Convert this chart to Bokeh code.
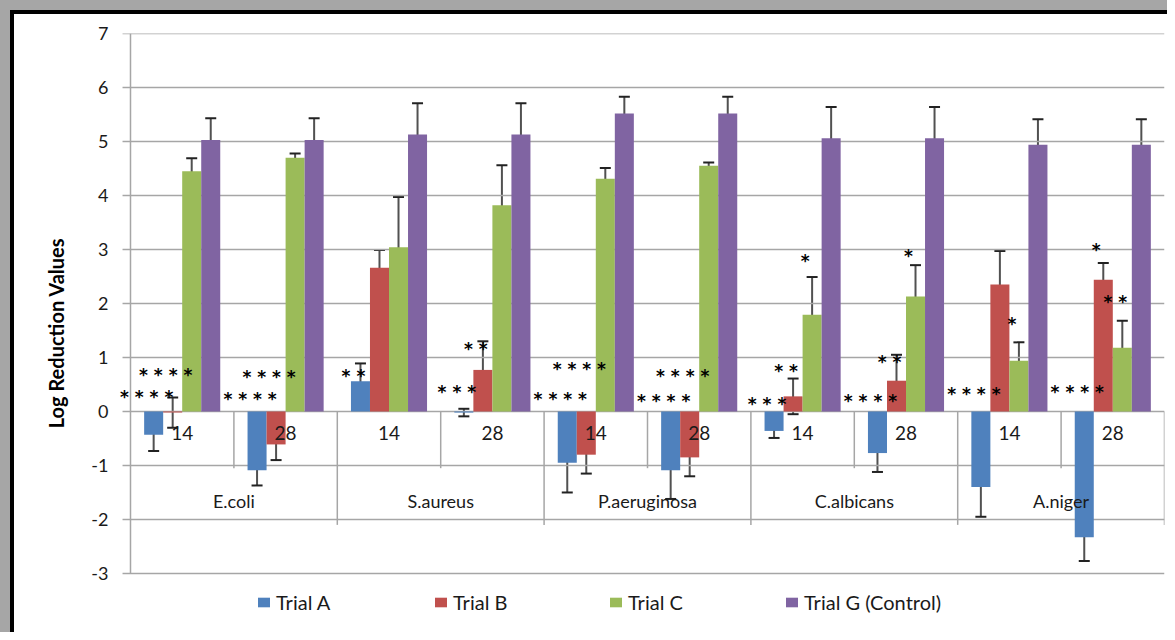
from bokeh.plotting import figure
from bokeh.models import (ColumnDataSource, Whisker, TeeHead, Legend, LegendItem,
                          FixedTicker, Range1d, Div)
from bokeh.layouts import column, row
from bokeh.core.properties import value
from bokeh.embed import file_html
from bokeh.resources import INLINE

# ---------------- data ----------------
organisms = ["E.coli", "S.aureus", "P.aeruginosa", "C.albicans", "A.niger"]
days = ["14", "28"]
series_names = ["Trial A", "Trial B", "Trial C", "Trial G (Control)"]

# order: E14, E28, S14, S28, P14, P28, C14, C28, A14, A28
trial_a = [-0.43, -1.09, 0.56, -0.02, -0.95, -1.09, -0.36, -0.77, -1.40, -2.33]
trial_a_err = [0.30, 0.28, 0.33, 0.07, 0.55, 0.53, 0.13, 0.35, 0.55, 0.44]
trial_b = [-0.02, -0.61, 2.66, 0.77, -0.80, -0.85, 0.28, 0.57, 2.35, 2.44]
trial_b_err = [0.28, 0.29, 0.33, 0.53, 0.35, 0.35, 0.33, 0.48, 0.62, 0.31]
trial_c = [4.45, 4.70, 3.04, 3.82, 4.31, 4.55, 1.79, 2.13, 0.94, 1.18]
trial_c_err = [0.24, 0.08, 0.93, 0.74, 0.20, 0.06, 0.70, 0.58, 0.34, 0.50]
trial_g = [5.03, 5.03, 5.13, 5.13, 5.52, 5.52, 5.06, 5.06, 4.94, 4.94]
trial_g_err = [0.40, 0.40, 0.58, 0.58, 0.31, 0.31, 0.58, 0.58, 0.47, 0.47]

# significance marks: category index, series index, text, height (log value)
star_cat = [0, 0, 1, 1, 2, 3, 3, 4, 4, 5, 5, 6, 6, 6, 7, 7, 7, 8, 8, 9, 9, 9]
star_series = [0, 1, 0, 1, 0, 0, 1, 0, 1, 0, 1, 0, 1, 2, 0, 1, 2, 0, 2, 0, 1, 2]
star_text = ["****", "****", "****", "****", "**", "***", "**", "****", "****",
             "****", "****", "***", "**", "*", "****", "**", "*", "****", "*",
             "****", "*", "**"]
star_y = [0.34, 0.75, 0.31, 0.71, 0.73, 0.43, 1.23, 0.31, 0.86, 0.27, 0.73,
          0.22, 0.82, 2.86, 0.27, 0.99, 2.96, 0.39, 1.70, 0.43, 3.07, 2.10]

y_ticks = [-3, -2, -1, 0, 1, 2, 3, 4, 5, 6, 7]
y_tick_labels = ["-3", "-2", "-1", "0", "1", "2", "3", "4", "5", "6", "7"]

colors = ["#4F81BD", "#C0504D", "#9BBB59", "#8064A2"]
values = [trial_a, trial_b, trial_c, trial_g]
errors = [trial_a_err, trial_b_err, trial_c_err, trial_g_err]

BAR_W = 0.184
n_cat = len(organisms) * len(days)
X0 = -0.1547          # small margin left of the value axis (room for labels)
TICK = -0.077         # tick mark length left of the axis
GRID = "#a6a6a6"
FONT = "Lato"


def bar_x(i, j):
    return i + 0.5 + (j - 1.5) * BAR_W


p = figure(frame_width=1050, frame_height=599,
           min_border_left=100, min_border_right=3,
           min_border_top=19, min_border_bottom=0,
           x_range=Range1d(X0, n_cat), y_range=Range1d(-4.093, 7),
           x_axis_location=None, output_backend="svg",
           toolbar_location=None, margin=0)
p.outline_line_color = None
p.background_fill_color = "white"
p.border_fill_color = "white"
p.xgrid.grid_line_color = None
p.ygrid.grid_line_color = None

# y axis: labels from the axis, line/ticks drawn at x = 0
p.yaxis.ticker = FixedTicker(ticks=y_ticks)
p.yaxis.major_label_overrides = {t: l for t, l in zip(y_ticks, y_tick_labels)}
p.yaxis.axis_line_color = None
p.yaxis.major_tick_line_color = None
p.yaxis.minor_tick_line_color = None
p.yaxis.major_tick_out = 0
p.yaxis.major_label_text_font = FONT
p.yaxis.major_label_text_font_size = "18px"
p.yaxis.major_label_text_color = "#1a1a1a"
p.yaxis.major_label_standoff = 6
p.yaxis.axis_label = "Log Reduction Values"
p.yaxis.axis_label_text_font = FONT
p.yaxis.axis_label_text_font_style = "bold"
p.yaxis.axis_label_text_font_size = "20px"
p.yaxis.axis_label_text_color = "#000000"
p.yaxis.axis_label_standoff = 20

# gridlines (with tick marks) and axis line
p.segment(x0=[TICK] * len(y_ticks), x1=[n_cat] * len(y_ticks), y0=y_ticks, y1=y_ticks,
          line_color=GRID, line_width=1.5)
p.segment(x0=[0], x1=[0], y0=[min(y_ticks)], y1=[max(y_ticks)],
          line_color=GRID, line_width=1.5)

# category table lines below zero
day_sep = [k for k in range(1, n_cat) if k % 2 == 1]
org_sep = [k for k in range(2, n_cat + 1) if k % 2 == 0]
p.segment(x0=day_sep, x1=day_sep, y0=[0] * len(day_sep), y1=[-1.05] * len(day_sep),
          line_color=GRID, line_width=1.5)
p.segment(x0=org_sep, x1=org_sep, y0=[0] * len(org_sep), y1=[-2.1] * len(org_sep),
          line_color=GRID, line_width=1.5)

# bars
bar_renderers = []
wx, wup, wlo = [], [], []
for j in range(4):
    xs = [bar_x(i, j) for i in range(n_cat)]
    src = ColumnDataSource(dict(x=xs, top=values[j]))
    r = p.vbar(x="x", top="top", bottom=0, width=BAR_W, source=src,
               fill_color=colors[j], line_color=None)
    bar_renderers.append(r)
    for i in range(n_cat):
        wx.append(xs[i])
        wup.append(values[j][i] + errors[j][i])
        wlo.append(values[j][i] - errors[j][i])

# category labels (drawn above the bars, as in the original)
day_x = [i + 0.5 for i in range(n_cat)]
day_lbl = [days[i % 2] for i in range(n_cat)]
p.text(x=day_x, y=[-0.39] * n_cat, text=day_lbl, text_align="center",
       text_baseline="middle", text_font=value(FONT), text_font_size="19px",
       text_color="#1a1a1a")
org_x = [2 * k + 1 for k in range(len(organisms))]
p.text(x=org_x, y=[-1.65] * len(organisms), text=organisms, text_align="center",
       text_baseline="middle", text_font=value(FONT), text_font_size="18px",
       text_color="#1a1a1a")

# significance marks
sx = [bar_x(c, s) for c, s in zip(star_cat, star_series)]
stxt = [" ".join(t) for t in star_text]
p.text(x=sx, y=star_y, text=stxt, text_align="center", text_baseline="middle",
       x_offset=-7, y_offset=4, text_font=value("DejaVu Sans"),
       text_font_style="bold", text_font_size="17px", text_color="#000000")

# error bars
err_src = ColumnDataSource(dict(x=wx, upper=wup, lower=wlo))
p.add_layout(Whisker(base="x", upper="upper", lower="lower", source=err_src,
                     line_color="#333333", line_width=2, line_alpha=0.85,
                     upper_head=TeeHead(size=11, line_color="#222222", line_width=2),
                     lower_head=TeeHead(size=11, line_color="#222222", line_width=2)))

# legends (one per series, along the bottom)
legend_x = [142, 319, 494, 670]
for j in range(4):
    lg = Legend(items=[LegendItem(label=series_names[j], renderers=[bar_renderers[j]])],
                location=(legend_x[j], 18), orientation="horizontal",
                glyph_width=15, glyph_height=12, label_standoff=5,
                padding=0, margin=0, spacing=0,
                border_line_color=None, background_fill_alpha=0,
                label_text_font=FONT, label_text_font_size="20px",
                label_text_color="#1a1a1a")
    p.add_layout(lg)


# frame of the original picture (grey edge and heavy black rule, top/left)
def band(w, h, color):
    return Div(width=w, height=h, margin=0, styles={"background-color": color})


layout = column(
    band(1167, 10, "#a6a6a6"),
    row(
        band(10, 622, "#a6a6a6"),
        column(
            band(1157, 4, "#000000"),
            row(band(4, 618, "#000000"), p, spacing=0, margin=0),
            spacing=0, margin=0),
        spacing=0, margin=0),
    spacing=0, margin=0)

open("out.html", "w").write(file_html(layout, INLINE))
